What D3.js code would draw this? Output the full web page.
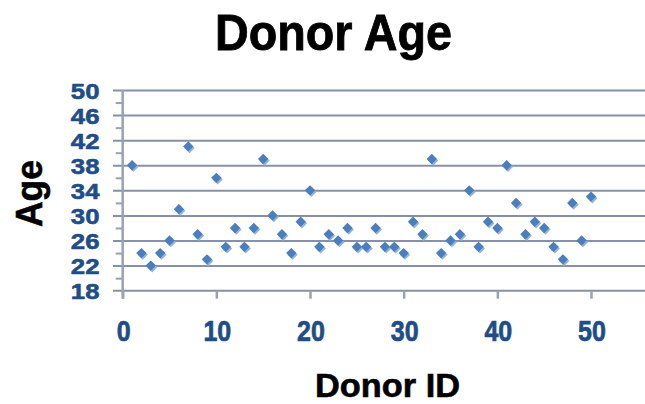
<!DOCTYPE html>
<html><head><meta charset="utf-8">
<script src="https://cdnjs.cloudflare.com/ajax/libs/d3/7.8.5/d3.min.js"></script>
<style>html,body{margin:0;padding:0;background:#fff;}svg{display:block;}text{font-family:"Liberation Sans",Arial,sans-serif;font-weight:bold;}</style>
</head><body>
<svg id="c" width="645" height="404"></svg>
<script>
const donorIds = d3.range(1, 51);
const ages = [38,24,22,24,26,31,41,27,23,36,25,28,25,28,39,30,27,24,29,34,25,27,26,28,25,25,28,25,25,24,29,27,39,24,26,27,34,25,29,28,38,32,27,29,28,25,23,32,26,33];
const xTicks = [0,10,20,30,40,50];
const yTicks = [18,22,26,30,34,38,42,46,50];
const yMinor = [20,24,28,32,36,40,44,48];
const title = "Donor Age", xTitle = "Donor ID", yTitle = "Age";

const W = 645, H = 404;
const svg = d3.select("#c");
const x = d3.scaleLinear().domain([0, 50]).range([122.7, 591]);
const y = d3.scaleLinear().domain([18, 50]).range([290.7, 90]);
const grid = "#8790a6", tickCol = "#9ba1b4", lblCol = "#214d86";

// major gridlines, extending left of the axis as outside ticks
svg.append("g").attr("transform", `translate(${W},0)`)
  .call(d3.axisLeft(y).tickValues(yTicks.filter(v => v > 18)).tickSize(W - 113).tickFormat(""))
  .call(g => g.select(".domain").remove())
  .call(g => g.selectAll("line").attr("stroke", grid).attr("stroke-width", 2));

// minor ticks on y axis
svg.append("g").attr("transform", `translate(${x(0)},0)`)
  .call(d3.axisLeft(y).tickValues(yMinor).tickSize(7).tickFormat(""))
  .call(g => g.select(".domain").remove())
  .call(g => g.selectAll("line").attr("stroke", tickCol).attr("stroke-width", 2));

// x axis line
svg.append("line").attr("x1", 113).attr("x2", W).attr("y1", y(18)).attr("y2", y(18))
  .attr("stroke", grid).attr("stroke-width", 2);
// x axis ticks
svg.append("g").attr("transform", `translate(0,${y(18)})`)
  .call(d3.axisBottom(x).tickValues(xTicks).tickSize(8).tickFormat(""))
  .call(g => g.select(".domain").remove())
  .call(g => g.selectAll("line").attr("stroke", tickCol).attr("stroke-width", 2.5));
// y axis line
svg.append("line").attr("x1", x(0)).attr("x2", x(0)).attr("y1", y(50)).attr("y2", y(18) + 8)
  .attr("stroke", tickCol).attr("stroke-width", 2.5);

// y tick labels
svg.append("g").selectAll("g").data(yTicks).join("g")
  .attr("transform", d => `translate(99.5,${y(d) + 8.5}) scale(1.12,1)`)
  .append("text").attr("text-anchor", "end")
  .attr("font-size", 23).attr("fill", lblCol).attr("stroke", lblCol).attr("stroke-width", 0.6)
  .text(d => d);

// x tick labels
svg.append("g").selectAll("g").data(xTicks).join("g")
  .attr("transform", d => `translate(${x(d) + 1},341) scale(1,1.17)`)
  .append("text").attr("text-anchor", "middle").attr("font-size", 25)
  .attr("fill", lblCol).attr("stroke", lblCol).attr("stroke-width", 0.6).text(d => d);

// points
const diamond = d3.symbol().type(d3.symbolDiamond2).size(68);
const pts = svg.append("g");
pts.selectAll("path.s").data(ages).join("path").attr("class", "s")
  .attr("d", diamond).attr("fill", "#93b4dc")
  .attr("transform", (d, i) => `translate(${x(donorIds[i]) + 1.3},${y(d) + 1.6})`);
pts.selectAll("path.m").data(ages).join("path").attr("class", "m")
  .attr("d", diamond).attr("fill", "#4a7ebd")
  .attr("transform", (d, i) => `translate(${x(donorIds[i])},${y(d)})`);

// titles
svg.append("text").attr("x", 333.5).attr("y", 49.5).attr("text-anchor", "middle")
  .attr("font-size", 50).attr("textLength", 237).attr("lengthAdjust", "spacingAndGlyphs")
  .attr("fill", "#000").attr("stroke", "#000").attr("stroke-width", 0.8).text(title);
svg.append("text").attr("x", 387.5).attr("y", 397).attr("text-anchor", "middle")
  .attr("font-size", 34).attr("textLength", 145).attr("lengthAdjust", "spacingAndGlyphs")
  .attr("fill", "#000").attr("stroke", "#000").attr("stroke-width", 0.6).text(xTitle);
svg.append("text").attr("transform", "translate(41.7,193.5) rotate(-90)").attr("text-anchor", "middle")
  .attr("font-size", 36).attr("textLength", 67).attr("lengthAdjust", "spacingAndGlyphs")
  .attr("fill", "#000").attr("stroke", "#000").attr("stroke-width", 0.6).text(yTitle);
</script>
</body></html>
